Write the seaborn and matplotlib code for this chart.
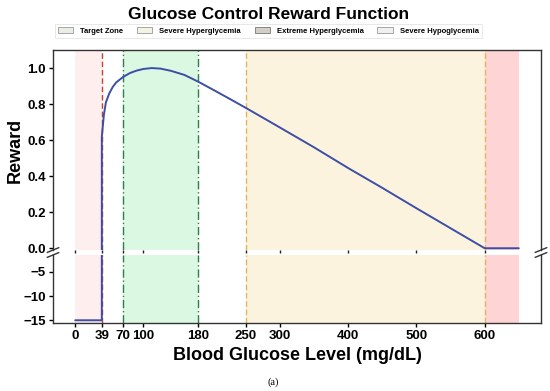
"""
Glucose control reward function — broken y-axis line chart.
"""

import numpy as np
import pandas as pd
import matplotlib
matplotlib.use("Agg")
import matplotlib.pyplot as plt
from matplotlib.patches import Patch
import seaborn as sns

# ── Data ─────────────────────────────────────────────────────────────────────
glucose = [0, 39, 39, 42, 45, 50, 55, 60, 70, 80, 90, 100, 112, 125, 140,
           160, 180, 200, 225, 250, 300, 350, 400, 450, 500, 550, 600, 650]
reward = [-15, -15, 0.62, 0.74, 0.81, 0.86, 0.895, 0.92, 0.95, 0.972, 0.986,
          0.995, 1.0, 0.997, 0.985, 0.962, 0.925, 0.884, 0.832, 0.779, 0.67,
          0.56, 0.445, 0.335, 0.222, 0.111, 0.0, 0.0]
df = pd.DataFrame({"glucose": glucose, "reward": reward})

x_ticks = [0, 39, 70, 100, 180, 250, 300, 400, 500, 600]
top_yticks = [0.0, 0.2, 0.4, 0.6, 0.8, 1.0]
bottom_yticks = [-15, -10, -5]

zones = [  # (start, end, colour, alpha)
    (0, 39, "#ff6b6b", 0.11),
    (70, 180, "#5de07f", 0.22),
    (250, 600, "#f3dc9a", 0.32),
    (600, 650, "#ff4d4d", 0.24),
]
vlines = [  # (x, colour, style)
    (39, "#c8402f", (0, (4, 2))),
    (70, "#2f7d4a", (0, (6, 2, 1, 2))),
    (180, "#2f7d4a", (0, (6, 2, 1, 2))),
    (250, "#e2b55c", (0, (4, 2))),
    (600, "#e2b55c", (0, (4, 2))),
]

# ── Style ────────────────────────────────────────────────────────────────────
sns.set_style("white")
plt.rcParams["font.family"] = ["Liberation Sans", "DejaVu Sans"]
plt.rcParams["font.weight"] = "bold"
plt.rcParams["text.color"] = "black"
plt.rcParams["axes.labelcolor"] = "black"
plt.rcParams["xtick.color"] = "black"
plt.rcParams["ytick.color"] = "black"
plt.rcParams["axes.edgecolor"] = "#333333"
plt.rcParams["axes.linewidth"] = 1.0

fig, (ax_top, ax_bot) = plt.subplots(
    2, 1, sharex=True, figsize=(5.5, 3.91), dpi=100,
    gridspec_kw={"height_ratios": [200, 67.7]})
fig.subplots_adjust(left=0.0964, right=0.9836, top=0.872, bottom=0.1747,
                    hspace=0.037)

line_color = "#3d4ea6"
for ax in (ax_top, ax_bot):
    for x0, x1, c, a in zones:
        ax.axvspan(x0, x1, color=c, alpha=a, lw=0)
    for xv, c, ls in vlines:
        ax.axvline(xv, color=c, linestyle=ls, lw=1.0)
    sns.lineplot(data=df, x="glucose", y="reward", estimator=None, sort=False,
                 color=line_color, lw=1.4, ax=ax)
    ax.set_xlabel("")
    ax.set_ylabel("")
    for s in ax.spines.values():
        s.set_color("#333333")

ax_top.set_xlim(-32.5, 682.5)
ax_top.set_ylim(-0.01, 1.1)
ax_bot.set_ylim(-15.5, -1.5)

ax_top.set_yticks(top_yticks)
ax_top.set_yticklabels([f"{v:.1f}" for v in top_yticks])
ax_bot.set_yticks(bottom_yticks)
ax_bot.set_xticks(x_ticks)

ax_top.spines["bottom"].set_visible(False)
ax_bot.spines["top"].set_visible(False)
ax_top.tick_params(axis="x", bottom=True, labelbottom=False, length=2,
                   width=1, color="#222222", direction="out")
for ax in (ax_top, ax_bot):
    ax.tick_params(axis="y", left=True, length=3, width=1, labelsize=9.5,
                   pad=2)
ax_bot.tick_params(axis="x", bottom=True, length=3, width=1, labelsize=9.5,
                   pad=2)
for lab in ax_top.get_yticklabels() + ax_bot.get_yticklabels() + \
        ax_bot.get_xticklabels():
    lab.set_fontweight("bold")

# break marks
d = 0.012
kw = dict(color="#333333", clip_on=False, lw=1.0)
ax_top.plot((-d, +d), (-d, +d), transform=ax_top.transAxes, **kw)
ax_top.plot((1 - d, 1 + d), (-d, +d), transform=ax_top.transAxes, **kw)
r = 200 / 67.7
ax_bot.plot((-d, +d), (1 - d * r, 1 + d * r), transform=ax_bot.transAxes, **kw)
ax_bot.plot((1 - d, 1 + d), (1 - d * r, 1 + d * r), transform=ax_bot.transAxes,
            **kw)

ax_top.set_ylabel("Reward", fontsize=13, fontweight="bold", labelpad=3)
ax_bot.set_xlabel("Blood Glucose Level (mg/dL)", fontsize=13,
                  fontweight="bold", labelpad=4)

fig.text(0.488, 0.962, "Glucose Control Reward Function", ha="center",
         va="center", fontsize=12.5, fontweight="bold")

handles = [
    Patch(facecolor="#e9eee5", edgecolor="#999999", lw=0.6, label="Target Zone"),
    Patch(facecolor="#f5f3e2", edgecolor="#999999", lw=0.6,
          label="Severe Hyperglycemia"),
    Patch(facecolor="#d3cfc7", edgecolor="#777777", lw=0.6,
          label="Extreme Hyperglycemia"),
    Patch(facecolor="#f2efef", edgecolor="#999999", lw=0.6,
          label="Severe Hypoglycemia"),
]
leg = fig.legend(handles=handles, loc="center", bbox_to_anchor=(0.488, 0.921),
                 ncol=4, fontsize=5.5, frameon=True, handlelength=2.0,
                 handleheight=0.9, handletextpad=0.9, columnspacing=1.8,
                 borderpad=0.45, fancybox=False)
leg.get_frame().set_edgecolor("#dddddd")
leg.get_frame().set_linewidth(0.6)
for t in leg.get_texts():
    t.set_fontweight("bold")

fig.text(0.497, 0.023, "(a)", ha="center", va="center", fontsize=7.5,
         family=["Liberation Serif", "DejaVu Serif"], fontweight="normal")

fig.savefig("out.png", dpi=100, facecolor="white")
plt.close(fig)
